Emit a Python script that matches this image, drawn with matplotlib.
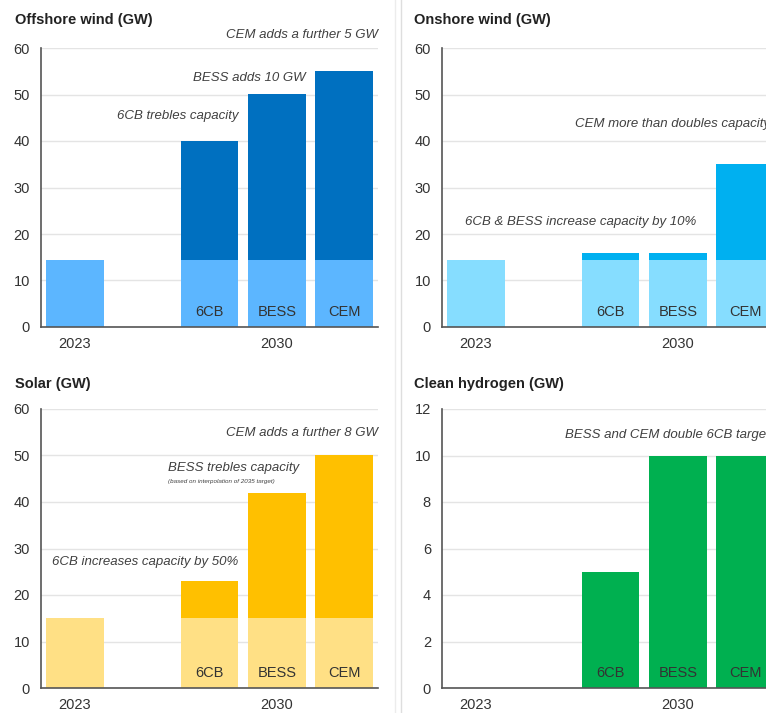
import numpy as np
import matplotlib
matplotlib.use("Agg")
import matplotlib.pyplot as plt

plt.rcParams['font.family'] = ['Liberation Sans', 'DejaVu Sans']

# data (GW)
bar_labels = ['6CB', 'BESS', 'CEM']
year_labels = ['2023', '2030']

offshore_base = [14.5, 14.5, 14.5, 14.5]
offshore_total = [14.5, 40, 50, 55]

onshore_base = [14.5, 14.5, 14.5, 14.5]
onshore_total = [14.5, 16, 16, 35]

solar_base = [15, 15, 15, 15]
solar_total = [15, 23, 42, 50]

hydrogen = [0, 5, 10, 10]

# layout
W, H = 766, 713
xpos = np.array([0, 2, 3, 4])
bar_w = 0.86
txt = '#333333'
ann = '#404040'

fig = plt.figure(figsize=(W / 100, H / 100), dpi=100)


def px_axes(x0, y_top, x1, y_bot):
    return fig.add_axes([x0 / W, 1 - y_bot / H, (x1 - x0) / W, (y_bot - y_top) / H])


def style(ax, ymax, step):
    ax.set_xlim(-0.5, 4.5)
    ax.set_ylim(0, ymax)
    ax.set_yticks(np.arange(0, ymax + step, step))
    ax.set_xticks([0, 3])
    ax.set_xticklabels(year_labels)
    ax.grid(axis='y', color='#e4e4e4', lw=1)
    ax.set_axisbelow(True)
    for s in ['top', 'right']:
        ax.spines[s].set_visible(False)
    for s in ['left', 'bottom']:
        ax.spines[s].set_color('#555555')
        ax.spines[s].set_linewidth(1.2)
    ax.tick_params(length=0, labelsize=10.5, labelcolor=txt)
    ax.tick_params(axis='y', pad=8)
    ax.tick_params(axis='x', pad=7)


def stacked(ax, base, total, c_base, c_top, ymax):
    base = np.array(base, dtype=float)
    top = np.array(total, dtype=float) - base
    ax.bar(xpos, base, width=bar_w, color=c_base, zorder=2)
    ax.bar(xpos, top, bottom=base, width=bar_w, color=c_top, zorder=2)
    for x, lab in zip(xpos[1:], bar_labels):
        ax.text(x, ymax * 0.053, lab, ha='center', va='center', fontsize=10.5, color=txt, zorder=3)


def note(ax, x, y, s, ha='left', size=9.5):
    ax.text(x, y, s, ha=ha, va='center', fontsize=size, style='italic', color=ann, clip_on=False)


# Offshore wind
ax1 = px_axes(41, 48, 378, 327)
style(ax1, 60, 10)
stacked(ax1, offshore_base, offshore_total, '#5cb6ff', '#0070c0', 60)
note(ax1, 4.5, 62.8, 'CEM adds a further 5 GW', ha='right')
note(ax1, 3.43, 53.5, 'BESS adds 10 GW', ha='right')
note(ax1, 2.43, 45.4, '6CB trebles capacity', ha='right')

# Onshore wind
ax2 = px_axes(442, 48, 779, 327)
style(ax2, 60, 10)
stacked(ax2, onshore_base, onshore_total, '#86ddff', '#00b0f0', 60)
note(ax2, 1.47, 43.6, 'CEM more than doubles capacity')
note(ax2, -0.16, 22.6, '6CB & BESS increase capacity by 10%')

# Solar
ax3 = px_axes(41, 409, 378, 688)
style(ax3, 60, 10)
stacked(ax3, solar_base, solar_total, '#ffe085', '#ffc000', 60)
note(ax3, 4.5, 54.8, 'CEM adds a further 8 GW', ha='right')
note(ax3, 1.38, 47.3, 'BESS trebles capacity')
note(ax3, 1.38, 44.5, '(based on interpolation of 2035 target)', size=4.5)
note(ax3, 2.43, 27.1, '6CB increases capacity by 50%', ha='right')

# Clean hydrogen
ax4 = px_axes(442, 409, 779, 688)
style(ax4, 12, 2)
ax4.bar(xpos, hydrogen, width=bar_w, color='#00b050', zorder=2)
for x, lab in zip(xpos[1:], bar_labels):
    ax4.text(x, 12 * 0.053, lab, ha='center', va='center', fontsize=10.5, color=txt, zorder=3)
note(ax4, 1.32, 10.9, 'BESS and CEM double 6CB target')

# panel titles
for x, y, s in [(15, 20, 'Offshore wind (GW)'), (414, 20, 'Onshore wind (GW)'),
                (15, 384, 'Solar (GW)'), (414, 384, 'Clean hydrogen (GW)')]:
    fig.text(x / W, 1 - y / H, s, ha='left', va='center', fontsize=10.5,
             fontweight='bold', color='#222222')

# faint panel separators
for xs, c in [(395, '#ececec'), (401, '#dedede')]:
    fig.add_artist(plt.Line2D([xs / W, xs / W], [0, 1], color=c, lw=1))

fig.savefig('out.png', dpi=100)
